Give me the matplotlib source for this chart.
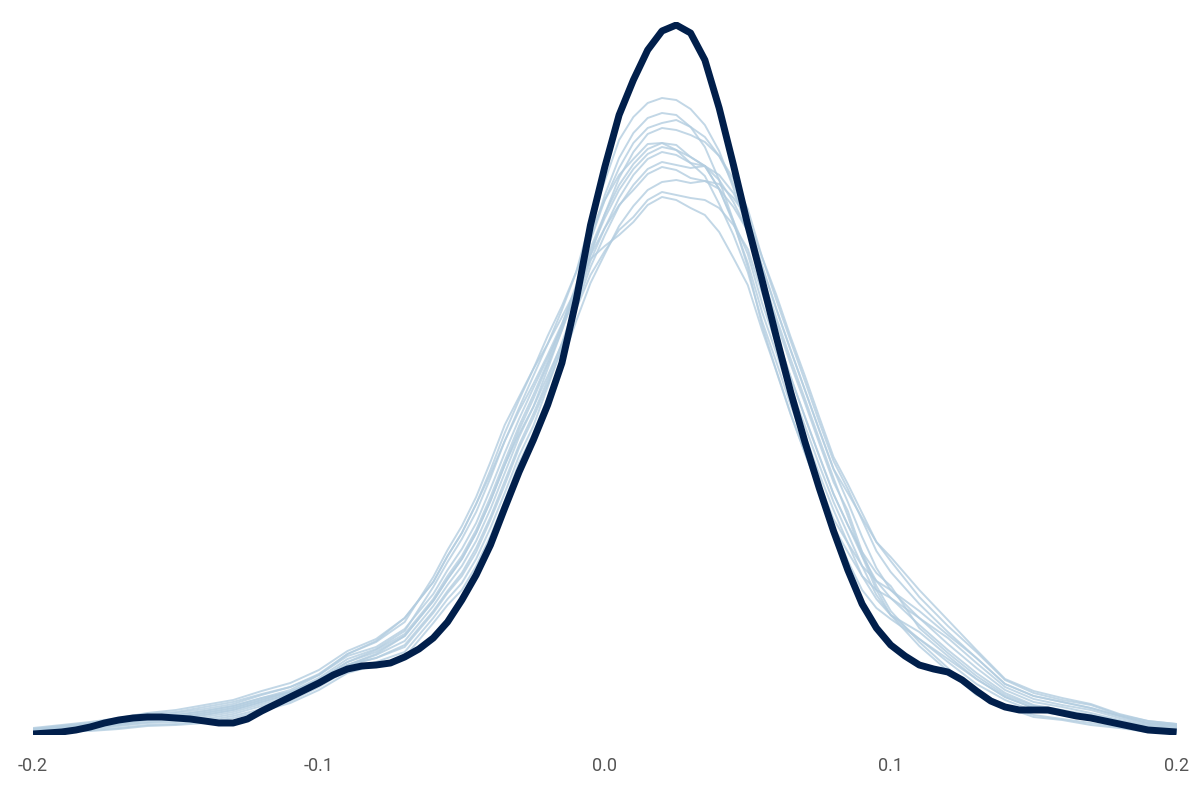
import matplotlib
matplotlib.use("Agg")
import matplotlib.pyplot as plt
import numpy as np

# x grid of the replicated densities (finer around the peak)
x_grid = [-0.20, -0.19, -0.18, -0.17, -0.16, -0.15, -0.14, -0.13, -0.12, -0.11,
          -0.10, -0.09, -0.08, -0.07, -0.06,
          -0.055, -0.05, -0.045, -0.04, -0.035, -0.03, -0.025, -0.02, -0.015,
          -0.01, -0.005, 0.0, 0.005, 0.01, 0.015, 0.02, 0.025, 0.03, 0.035,
          0.04, 0.045, 0.05, 0.055, 0.06, 0.065, 0.07, 0.075, 0.08, 0.085,
          0.09, 0.095, 0.10,
          0.11, 0.12, 0.13, 0.14, 0.15, 0.16, 0.17, 0.18, 0.19, 0.20]

# observed density (y), on a 0.005 grid from -0.2 to 0.2
x_obs = np.linspace(-0.2, 0.2, 81)
y_obs = [0.01, 0.02, 0.03, 0.05, 0.08, 0.12, 0.15, 0.17, 0.18, 0.18,
         0.17, 0.16, 0.14, 0.12, 0.12, 0.16, 0.24, 0.31, 0.38, 0.45,
         0.52, 0.60, 0.66, 0.69, 0.70, 0.72, 0.78, 0.86, 0.97,
         1.13, 1.35, 1.60, 1.90, 2.27, 2.63, 2.95, 3.30, 3.72, 4.35, 5.10,
         5.68, 6.20, 6.55, 6.85, 7.04, 7.10, 7.02, 6.75, 6.27, 5.70, 5.10,
         4.55, 3.98, 3.43, 2.93, 2.47, 2.04, 1.65, 1.31, 1.07, 0.90,
         0.79, 0.70, 0.66, 0.63, 0.55, 0.44, 0.34, 0.28, 0.25, 0.25,
         0.25, 0.22, 0.19, 0.17, 0.14, 0.11, 0.08, 0.05, 0.04, 0.03]

# replicated densities (yrep draws)
yrep_a = [0.05, 0.07, 0.09, 0.12, 0.16, 0.18, 0.22, 0.27, 0.35, 0.43, 0.57, 0.76, 0.86, 1.04, 1.48,
          1.73, 1.96, 2.23, 2.57, 2.94, 3.27, 3.59, 3.91, 4.25, 4.63, 5.15,
          5.54, 5.95, 6.18, 6.32, 6.37, 6.35, 6.26, 6.10, 5.84, 5.47, 5.04, 4.46, 4.00, 3.58,
          3.18, 2.79, 2.41, 2.10, 1.79, 1.54, 1.37,
          1.10, 0.85, 0.62, 0.42, 0.30, 0.25, 0.20, 0.14, 0.09, 0.07]
yrep_b = [0.06, 0.09, 0.11, 0.15, 0.19, 0.22, 0.26, 0.31, 0.40, 0.48, 0.61, 0.81, 0.93, 1.13, 1.58,
          1.85, 2.09, 2.38, 2.73, 3.10, 3.38, 3.66, 3.91, 4.18, 4.46, 4.76,
          4.89, 5.00, 5.13, 5.30, 5.38, 5.35, 5.27, 5.20, 5.03, 4.77, 4.50, 4.05, 3.64, 3.21,
          2.82, 2.44, 2.08, 1.74, 1.45, 1.27, 1.16,
          0.96, 0.76, 0.56, 0.38, 0.27, 0.22, 0.18, 0.12, 0.07, 0.05]
yrep_c = [0.04, 0.07, 0.08, 0.11, 0.15, 0.17, 0.20, 0.25, 0.33, 0.41, 0.55, 0.73, 0.83, 0.99, 1.34,
          1.56, 1.76, 2.02, 2.34, 2.70, 3.05, 3.36, 3.70, 4.05, 4.43, 4.84,
          5.17, 5.45, 5.66, 5.81, 5.88, 5.85, 5.78, 5.69, 5.46, 5.12, 4.72, 4.23, 3.82, 3.39,
          3.00, 2.61, 2.25, 1.92, 1.59, 1.36, 1.20,
          1.03, 0.79, 0.56, 0.38, 0.27, 0.22, 0.18, 0.12, 0.07, 0.05]
yrep_d = [0.02, 0.04, 0.05, 0.07, 0.10, 0.11, 0.14, 0.19, 0.26, 0.34, 0.48, 0.65, 0.73, 0.83, 1.17,
          1.36, 1.52, 1.76, 2.07, 2.42, 2.79, 3.09, 3.48, 3.87, 4.33, 4.80,
          5.21, 5.57, 5.83, 6.01, 6.07, 6.05, 6.00, 5.93, 5.79, 5.56, 5.26, 4.78, 4.35, 3.94,
          3.54, 3.13, 2.74, 2.46, 2.15, 1.84, 1.63,
          1.31, 1.03, 0.77, 0.51, 0.39, 0.33, 0.27, 0.19, 0.12, 0.10]
yrep_e = [0.06, 0.09, 0.12, 0.16, 0.21, 0.23, 0.28, 0.33, 0.41, 0.48, 0.60, 0.79, 0.88, 1.06, 1.41,
          1.65, 1.86, 2.12, 2.46, 2.82, 3.16, 3.47, 3.77, 4.08, 4.43, 4.80,
          5.07, 5.30, 5.45, 5.61, 5.68, 5.65, 5.57, 5.54, 5.46, 5.28, 5.04, 4.60, 4.17, 3.76,
          3.36, 2.96, 2.57, 2.19, 1.79, 1.45, 1.20,
          0.89, 0.64, 0.40, 0.28, 0.18, 0.15, 0.10, 0.07, 0.03, 0.02]
yrep_f = [0.03, 0.06, 0.07, 0.10, 0.13, 0.15, 0.18, 0.23, 0.31, 0.39, 0.52, 0.70, 0.80, 0.94, 1.29,
          1.50, 1.69, 1.94, 2.26, 2.62, 2.98, 3.28, 3.66, 4.05, 4.46, 4.95,
          5.40, 5.77, 6.02, 6.17, 6.22, 6.20, 6.08, 5.88, 5.55, 5.14, 4.68, 4.10, 3.64, 3.21,
          2.82, 2.44, 2.08, 1.83, 1.59, 1.45, 1.37,
          1.17, 0.97, 0.72, 0.48, 0.36, 0.30, 0.25, 0.17, 0.11, 0.09]
yrep_g = [0.02, 0.04, 0.04, 0.06, 0.09, 0.10, 0.12, 0.17, 0.24, 0.32, 0.45, 0.62, 0.70, 0.78, 1.12,
          1.30, 1.45, 1.69, 1.99, 2.34, 2.72, 3.02, 3.37, 3.73, 4.14, 4.52,
          4.81, 5.09, 5.29, 5.45, 5.53, 5.55, 5.52, 5.54, 5.51, 5.37, 5.17, 4.78, 4.40, 3.98,
          3.59, 3.18, 2.78, 2.51, 2.22, 1.93, 1.74,
          1.38, 1.09, 0.83, 0.55, 0.42, 0.35, 0.30, 0.20, 0.14, 0.11]
yrep_h = [0.07, 0.10, 0.13, 0.17, 0.22, 0.25, 0.30, 0.35, 0.44, 0.52, 0.65, 0.84, 0.96, 1.17, 1.53,
          1.79, 2.02, 2.31, 2.61, 2.94, 3.24, 3.51, 3.80, 4.11, 4.46, 4.87,
          5.21, 5.50, 5.71, 5.86, 5.92, 5.90, 5.78, 5.69, 5.46, 5.14, 4.81, 4.32, 3.91, 3.48,
          3.09, 2.70, 2.33, 2.01, 1.69, 1.40, 1.20,
          0.96, 0.73, 0.51, 0.35, 0.24, 0.20, 0.15, 0.10, 0.06, 0.04]
yrep_i = [0.05, 0.08, 0.10, 0.13, 0.18, 0.20, 0.24, 0.29, 0.37, 0.43, 0.55, 0.70, 0.77, 0.90, 1.24,
          1.44, 1.62, 1.87, 2.18, 2.54, 2.90, 3.21, 3.55, 3.92, 4.33, 4.74,
          5.07, 5.37, 5.60, 5.76, 5.83, 5.80, 5.72, 5.69, 5.55, 5.33, 5.04, 4.55, 4.13, 3.71,
          3.32, 2.92, 2.53, 2.24, 1.83, 1.49, 1.24,
          0.93, 0.67, 0.43, 0.30, 0.20, 0.16, 0.12, 0.08, 0.04, 0.03]
yrep_j = [0.04, 0.07, 0.08, 0.11, 0.15, 0.17, 0.20, 0.25, 0.33, 0.41, 0.55, 0.73, 0.85, 1.01, 1.36,
          1.59, 1.79, 2.05, 2.38, 2.74, 3.09, 3.40, 3.73, 4.10, 4.50, 4.95,
          5.35, 5.67, 5.92, 6.07, 6.12, 6.15, 6.08, 5.98, 5.79, 5.51, 5.17, 4.69, 4.26, 3.85,
          3.45, 3.05, 2.66, 2.33, 1.98, 1.67, 1.45,
          1.17, 0.91, 0.67, 0.45, 0.33, 0.28, 0.22, 0.15, 0.10, 0.08]
yrep_k = [0.05, 0.08, 0.10, 0.13, 0.18, 0.20, 0.24, 0.29, 0.37, 0.45, 0.60, 0.81, 0.94, 1.17, 1.53,
          1.79, 2.02, 2.31, 2.65, 3.02, 3.35, 3.66, 3.99, 4.29, 4.63, 5.03,
          5.35, 5.60, 5.76, 5.91, 5.92, 5.85, 5.72, 5.59, 5.31, 5.00, 4.63, 4.14, 3.73, 3.30,
          2.91, 2.52, 2.16, 1.92, 1.69, 1.54, 1.45,
          1.24, 1.00, 0.77, 0.51, 0.39, 0.33, 0.27, 0.19, 0.12, 0.10]
yrep_l = [0.03, 0.05, 0.06, 0.09, 0.12, 0.13, 0.16, 0.21, 0.29, 0.37, 0.51, 0.70, 0.81, 0.99, 1.34,
          1.56, 1.76, 2.02, 2.34, 2.70, 3.01, 3.28, 3.59, 3.91, 4.26, 4.60,
          4.84, 5.05, 5.18, 5.35, 5.43, 5.40, 5.37, 5.35, 5.27, 5.10, 4.86, 4.42, 4.00, 3.58,
          3.18, 2.79, 2.41, 2.10, 1.83, 1.62, 1.49,
          1.07, 0.82, 0.59, 0.40, 0.29, 0.24, 0.19, 0.13, 0.08, 0.06]
yrep_m = [0.05, 0.07, 0.09, 0.12, 0.16, 0.18, 0.22, 0.27, 0.35, 0.43, 0.55, 0.70, 0.77, 0.88, 1.22,
          1.42, 1.59, 1.83, 2.15, 2.50, 2.87, 3.17, 3.51, 3.87, 4.28, 4.68,
          5.00, 5.29, 5.50, 5.66, 5.73, 5.70, 5.67, 5.69, 5.60, 5.42, 5.13, 4.69, 4.26, 3.85,
          3.45, 3.05, 2.66, 2.42, 2.17, 1.93, 1.78,
          1.45, 1.15, 0.85, 0.56, 0.44, 0.37, 0.31, 0.21, 0.14, 0.11]

yrep_draws = [yrep_a, yrep_b, yrep_c, yrep_d, yrep_e, yrep_f, yrep_g,
              yrep_h, yrep_i, yrep_j, yrep_k, yrep_l, yrep_m]

tick_values = [-0.2, -0.1, 0.0, 0.1, 0.2]
tick_labels = ["-0.2", "-0.1", "0.0", "0.1", "0.2"]

plt.rcParams['font.family'] = ['Roboto', 'DejaVu Sans']

fig = plt.figure(figsize=(12, 8), dpi=100)
ax = fig.add_axes([0.0275, 0.08125, 0.953, 0.89125])

# replicated data, light lines
for draw in yrep_draws:
    ax.plot(x_grid, draw, color='#b3cde0', linewidth=1.4, alpha=0.8,
            solid_joinstyle='round', zorder=1)

# observed data on top
ax.plot(x_obs, y_obs, color='#011f4b', linewidth=5,
        solid_joinstyle='round', solid_capstyle='butt', zorder=2)

ax.set_xlim(-0.2, 0.2)
ax.set_ylim(0, 7.13)

ax.set_xticks(tick_values)
ax.set_xticklabels(tick_labels)
ax.tick_params(axis='x', length=0, pad=16, labelsize=13, labelcolor='#555555')
ax.set_yticks([])
for side in ['top', 'right', 'left', 'bottom']:
    ax.spines[side].set_visible(False)

plt.savefig('out.png', dpi=100)
plt.close(fig)
